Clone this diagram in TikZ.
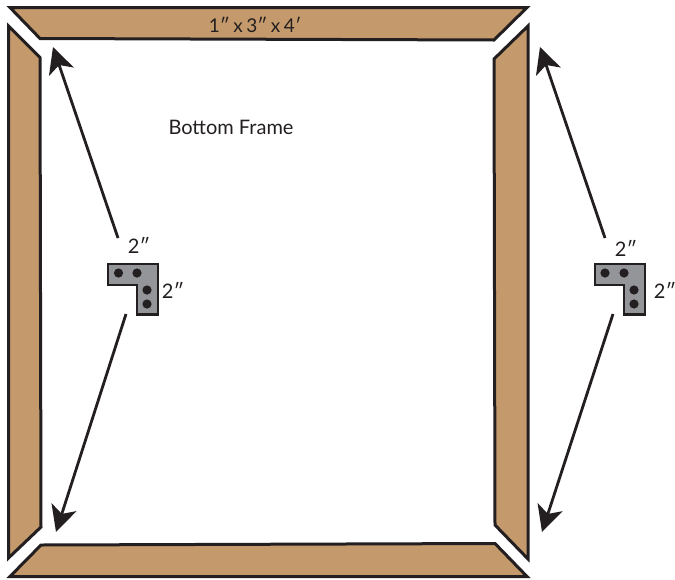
\documentclass[tikz,border=0pt]{standalone}
\usepackage{fontspec}
\setmainfont{Lato}
\usetikzlibrary{arrows.meta}
\definecolor{woodtan}{HTML}{C49A6C}
\definecolor{plategray}{HTML}{939598}
\definecolor{inkline}{HTML}{231F20}
\tikzset{
  wood/.style={draw=inkline,fill=woodtan,line width=3pt,line join=miter,miter limit=12},
  plate/.style={draw=inkline,fill=plategray,line width=2.8pt,line join=miter},
  bolt/.style={circle,fill=inkline,inner sep=0pt,minimum size=9.2pt},
  dim/.style={text=inkline,font=\fontsize{20}{22}\selectfont,inner sep=0pt},
  pointer/.style={draw=inkline,line width=2.8pt,-{Stealth[length=26pt,width=26pt,inset=7pt]}}
}
\begin{document}
\begin{tikzpicture}[x=1pt,y=-1pt]
\useasboundingbox (0,0) rectangle (675,579);
% frame boards
\draw[wood] (10,7.5) -- (527,7.5) -- (494,40) -- (40,38.5) -- cycle;
\draw[wood] (8.5,26) -- (40,57.5) -- (41,527) -- (8.5,558) -- cycle;
\draw[wood] (528,26) -- (494,59) -- (495,525) -- (528,559) -- cycle;
\draw[wood] (10,576.5) -- (41,545) -- (495,543.5) -- (527,576.5) -- cycle;
% left bracket
\draw[plate] (108,264) -- (158,264) -- (158,314.5) -- (137,314.5) -- (137,285) -- (108,285) -- cycle;
\node[bolt] (la) at (118.5,273) {};
\node[bolt] (lb) at (137,273) {};
\node[bolt] (lc) at (147,290) {};
\node[bolt] (ld) at (147,304) {};
% right bracket
\draw[plate] (595,264) -- (645,264) -- (645,314.5) -- (624,314.5) -- (624,285) -- (595,285) -- cycle;
\node[bolt] (ra) at (605,273) {};
\node[bolt] (rb) at (624,273) {};
\node[bolt] (rc) at (634,290) {};
\node[bolt] (rd) at (634,304) {};
% pointer ends
\coordinate (ltail) at (118,238);
\coordinate (ltip) at (53,47);
\coordinate (lbtail) at (126,314);
\coordinate (lbtip) at (56,532);
\coordinate (rtail) at (605,238);
\coordinate (rtip) at (540,47);
\coordinate (rbtail) at (613,314);
\coordinate (rbtip) at (542,532);
\draw[pointer] (ltail) -- (ltip);
\draw[pointer] (lbtail) -- (lbtip);
\draw[pointer] (rtail) -- (rtip);
\draw[pointer] (rbtail) -- (rbtip);
% labels
\node[dim] (size) at (255,24.5) {\fontsize{19}{22}\selectfont\spaceskip=3.6pt 1″ x 3″ x 4′};
\node[dim] (title) at (231,127) {Bottom Frame};
\node[dim] (ltop) at (139,245) {2″};
\node[dim] (lside) at (173,290) {2″};
\node[dim] (rtop) at (626,248) {2″};
\node[dim] (rside) at (665,290) {2″};
\end{tikzpicture}
\end{document}
